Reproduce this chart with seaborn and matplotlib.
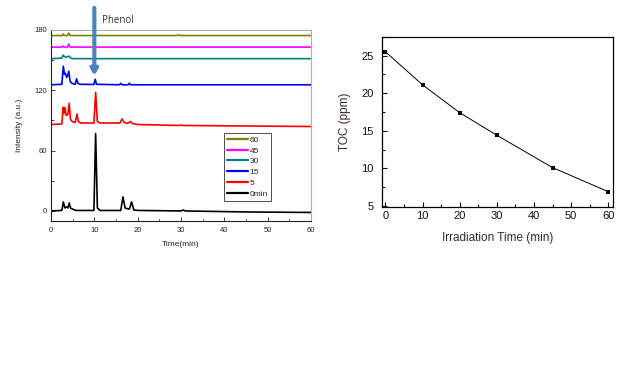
import numpy as np
import pandas as pd
import matplotlib
matplotlib.use("Agg")
import matplotlib.pyplot as plt
import seaborn as sns
from matplotlib.ticker import MultipleLocator

# ---------------- data ----------------
series_names = ["0min", "5", "15", "30", "45", "60"]
series_colors = ["#000000", "#FF0000", "#0000FF", "#008080", "#FF00FF", "#808000"]

t0_x = [0, 2.5, 2.85, 3.2, 3.6, 3.9, 4.2, 4.5, 4.9, 5.7, 9.9, 10.3, 10.7, 11.3, 16.1, 16.6, 17.1, 17.8, 18.1, 18.6, 19.1, 20.2, 30.0, 30.5, 31.0, 45, 60]
t0_y = [0, 0.5, 9, 3, 4, 3, 8, 3, 2, 0.5, 0.5, 77, 3, 0.5, 0.5, 14, 3, 2, 2, 9, 1, 0.5, 0, 1, 0, -1, -1.5]

t5_x = [0, 2.5, 2.8, 3.0, 3.2, 3.5, 3.9, 4.2, 4.5, 4.9, 5.6, 6.0, 6.3, 6.8, 9.9, 10.3, 10.7, 11.3, 15.9, 16.4, 16.9, 17.7, 18.3, 18.8, 20, 29.5, 30, 30.5, 60]
t5_y = [86, 86.5, 103, 97, 103, 95, 96, 107, 91, 89, 88, 96.5, 89, 87.5, 87.5, 118, 89, 87.5, 87.5, 91.5, 88, 87, 89, 87, 86, 85, 85.5, 85, 84]

t15_x = [0, 2.5, 2.85, 3.1, 3.3, 3.6, 3.8, 4.1, 4.4, 4.8, 5.6, 5.9, 6.2, 6.7, 9.9, 10.2, 10.5, 15.8, 16.1, 16.4, 17.8, 18.1, 18.4, 60]
t15_y = [125.5, 126, 144, 136, 137, 133, 134, 139, 129, 127, 126, 131.5, 127, 126, 125.8, 131, 126, 125.5, 127, 125.5, 125.5, 127, 125.5, 125.5]

t30_x = [0, 2.5, 2.8, 3.1, 3.6, 4.1, 4.6, 5.1, 60]
t30_y = [151.5, 152, 155, 153.5, 153, 154, 152, 151.5, 151.5]

t45_x = [0, 2.6, 2.8, 3.1, 3.8, 4.1, 4.4, 60]
t45_y = [163, 163, 164, 163, 163, 166, 163, 163]

t60_x = [0, 2.6, 2.8, 3.1, 3.8, 4.1, 4.4, 29.0, 29.5, 30.0, 60]
t60_y = [174.5, 174.5, 176, 174.5, 174.5, 177, 174.5, 174.5, 175, 174.5, 174.5]

chrom_x = [t0_x, t5_x, t15_x, t30_x, t45_x, t60_x]
chrom_y = [t0_y, t5_y, t15_y, t30_y, t45_y, t60_y]

toc_time = [0, 10, 20, 30, 45, 60]
toc_ppm = [25.5, 21.1, 17.4, 14.4, 10.1, 6.9]

# ---------------- figure ----------------
sns.set_style("white")
plt.rcParams['font.family'] = ['Liberation Sans', 'DejaVu Sans']

fig = plt.figure(figsize=(6.43, 3.74), dpi=100)

# Left: chromatograms
ax1 = fig.add_axes([51/643, 1-221/374, 260/643, 191/374])
rows = []
for name, xs, ys in zip(series_names, chrom_x, chrom_y):
    for x, y in zip(xs, ys):
        rows.append({"time": x, "intensity": y, "series": name})
df = pd.DataFrame(rows)
sns.lineplot(data=df, x="time", y="intensity", hue="series", hue_order=series_names,
             palette=series_colors, sort=False, estimator=None, linewidth=1.2, ax=ax1)

ax1.set_xlim(0, 60)
ax1.set_ylim(-10, 180)
ax1.xaxis.set_major_locator(MultipleLocator(10))
ax1.xaxis.set_minor_locator(MultipleLocator(5))
ax1.yaxis.set_major_locator(MultipleLocator(60))
ax1.yaxis.set_minor_locator(MultipleLocator(30))
ax1.tick_params(which='both', direction='in', bottom=True, left=True, top=False, right=False,
                labelsize=5.5, colors='#222222')
ax1.tick_params(axis='x', pad=4)
ax1.tick_params(axis='y', pad=3)
ax1.tick_params(which='major', length=3, width=0.6)
ax1.tick_params(which='minor', length=1.8, width=0.6)
for s in ['left', 'bottom']:
    ax1.spines[s].set_color('#222222')
    ax1.spines[s].set_linewidth(0.8)
for s in ['top', 'right']:
    ax1.spines[s].set_color('#b0b0b0')
    ax1.spines[s].set_linewidth(0.8)
ax1.set_xlabel("Time(min)", fontsize=6, color='#222222', labelpad=5)
ax1.set_ylabel("Intensity (a.u.)", fontsize=6, color='#222222', labelpad=8)

handles, labels = ax1.get_legend_handles_labels()
order = [labels.index(n) for n in series_names[::-1]]
leg = ax1.legend([handles[i] for i in order], [labels[i] for i in order],
                 loc='upper left', bbox_to_anchor=(0.665, 0.46), borderaxespad=0,
                 fontsize=6, handlelength=2.5, handletextpad=0.2, labelspacing=0.35,
                 frameon=True, fancybox=False, edgecolor='#222222', borderpad=0.35)
leg.get_frame().set_linewidth(0.7)
for lh in leg.get_lines():
    lh.set_linewidth(1.6)

# Phenol arrow
ax1.annotate("", xy=(10, 134.5), xytext=(10, 202), xycoords='data',
             arrowprops=dict(arrowstyle='-|>,head_width=0.2,head_length=0.35',
                             color='#4f81bd', lw=3, shrinkA=0, shrinkB=0),
             annotation_clip=False)
ax1.text(11.8, 189, "Phenol", fontsize=7, color='#333333', family=['Open Sans', 'DejaVu Sans'],
         va='center', ha='left', clip_on=False)

# Right: TOC
ax2 = fig.add_axes([381.7/643, 1-206.7/374, 231/643, 170/374])
toc_df = pd.DataFrame({"time": toc_time, "toc": toc_ppm})
sns.lineplot(data=toc_df, x="time", y="toc", color='black', linewidth=0.7,
             marker='s', markersize=3.5, markeredgewidth=0, ax=ax2)
ax2.set_xlim(-1, 61.2)
ax2.set_ylim(4.9, 27.5)
ax2.xaxis.set_major_locator(MultipleLocator(10))
ax2.xaxis.set_minor_locator(MultipleLocator(5))
ax2.yaxis.set_major_locator(MultipleLocator(5))
ax2.yaxis.set_minor_locator(MultipleLocator(2.5))
ax2.tick_params(which='both', direction='in', bottom=True, left=True, top=False, right=False,
                labelsize=8, colors='#111111')
ax2.tick_params(axis='x', pad=3)
ax2.tick_params(axis='y', pad=6)
ax2.tick_params(which='major', length=3.5, width=0.8)
ax2.tick_params(which='minor', length=2, width=0.8)
for s in ax2.spines.values():
    s.set_color('black')
    s.set_linewidth(0.9)
ax2.set_xlabel("Irradiation Time (min)", fontsize=8.5, color='#3a2a2a', labelpad=8)
ax2.set_ylabel("TOC (ppm)", fontsize=8.5, color='#3a2a2a', labelpad=7)

fig.savefig("out.png", dpi=100)
